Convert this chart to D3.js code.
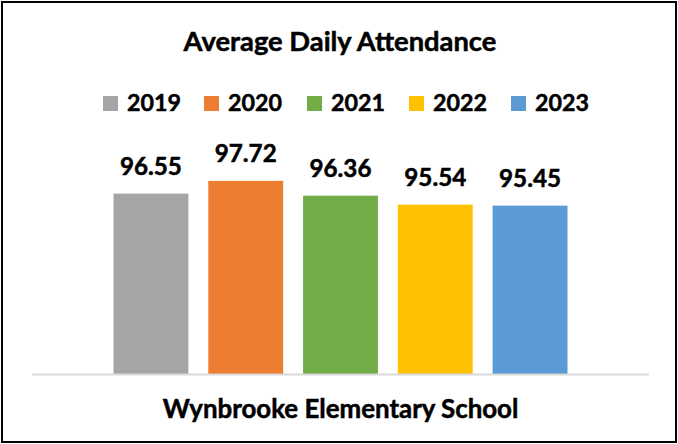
<!DOCTYPE html>
<html lang="en">
  <head>
    <meta charset="UTF-8" />
    <title>Average Daily Attendance</title>
    <script src="https://cdn.jsdelivr.net/npm/d3@7"></script>
    <style>
      body {
        margin: 0;
        background: #fff;
      }
      text {
        font-family: Lato, "Open Sans", sans-serif;
        font-weight: bold;
        fill: #000;
        stroke: #000;
        stroke-width: 0.5px;
      }
    </style>
  </head>
  <body>
    <div class="chart"></div>

    <script>
      const school = ["Wynbrooke Elementary School"];
      const years = ["2019", "2020", "2021", "2022", "2023"];
      const attendance = [96.55, 97.72, 96.36, 95.54, 95.45];
      const colors = ["#A5A5A5", "#ED7D31", "#70AD47", "#FFC000", "#5B9BD5"];

      const width = 678;
      const height = 444;

      const svg = d3
        .select(".chart")
        .append("svg")
        .attr("width", width)
        .attr("height", height);

      // outer frame
      svg
        .append("rect")
        .attr("x", 2)
        .attr("y", 2)
        .attr("width", width - 4)
        .attr("height", height - 4)
        .attr("fill", "#fff")
        .attr("stroke", "#000")
        .attr("stroke-width", 2);

      // scales
      const x0 = d3
        .scaleBand()
        .domain(school)
        .range([32, 649])
        .paddingOuter(0.151);

      const x1 = d3
        .scaleBand()
        .domain(years)
        .range([0, x0.bandwidth()])
        .paddingInner(0.21)
        .paddingOuter(0.105);

      const y = d3.scaleLinear().domain([80, 100]).range([374, 156]);

      const color = d3.scaleOrdinal().domain(years).range(colors);

      // makes a text fit a width (Calibri stand-in)
      function fit(sel, w) {
        sel.each(function () {
          const len = this.getComputedTextLength();
          const fs = parseFloat(d3.select(this).style("font-size"));
          d3.select(this).style("font-size", (fs * w) / len + "px");
        });
      }

      // title
      svg
        .append("text")
        .attr("x", 340)
        .attr("y", 51)
        .attr("text-anchor", "middle")
        .style("font-size", "24px")
        .text("Average Daily Attendance")
        .call(fit, 313);

      // legend
      const legendX = [103, 204, 307, 409, 511];
      const legend = svg
        .append("g")
        .selectAll("g")
        .data(years)
        .enter()
        .append("g")
        .attr("transform", (d, i) => `translate(${legendX[i]},96)`);

      legend
        .append("rect")
        .attr("width", 15)
        .attr("height", 15)
        .attr("fill", (d) => color(d));

      legend
        .append("text")
        .attr("x", 24)
        .attr("y", 15)
        .style("font-size", "23px")
        .text((d) => d)
        .call(fit, 54);

      // bars
      const data = years.map((yr, i) => ({ year: yr, value: attendance[i] }));

      const group = svg
        .append("g")
        .attr("transform", `translate(${x0(school[0])},0)`);

      group
        .selectAll(".bar")
        .data(data)
        .enter()
        .append("rect")
        .attr("class", "bar")
        .attr("x", (d) => x1(d.year))
        .attr("y", (d) => y(d.value))
        .attr("width", x1.bandwidth())
        .attr("height", (d) => y(80) - y(d.value))
        .attr("fill", (d) => color(d.year));

      group
        .selectAll(".label")
        .data(data)
        .enter()
        .append("text")
        .attr("class", "label")
        .attr("x", (d) => x1(d.year) + x1.bandwidth() / 2)
        .attr("y", (d) => y(d.value) - 19)
        .attr("text-anchor", "middle")
        .style("font-size", "24px")
        .text((d) => d.value.toFixed(2))
        .call(fit, 62);

      // baseline
      svg
        .append("line")
        .attr("x1", 32)
        .attr("x2", 649)
        .attr("y1", y(80) + 0.5)
        .attr("y2", y(80) + 0.5)
        .attr("stroke", "#D9D9D9")
        .attr("stroke-width", 2);

      // category label
      const xAxis = d3.axisBottom(x0).tickSize(0).tickPadding(0);
      const axisG = svg
        .append("g")
        .attr("transform", `translate(0,${y(80)})`)
        .call(xAxis);
      axisG.select(".domain").remove();
      axisG.attr("font-family", null).attr("font-size", null);
      axisG
        .selectAll(".tick text")
        .attr("dy", null)
        .attr("y", 44)
        .style("font-size", "24px")
        .call(fit, 356);
    </script>
  </body>
</html>
